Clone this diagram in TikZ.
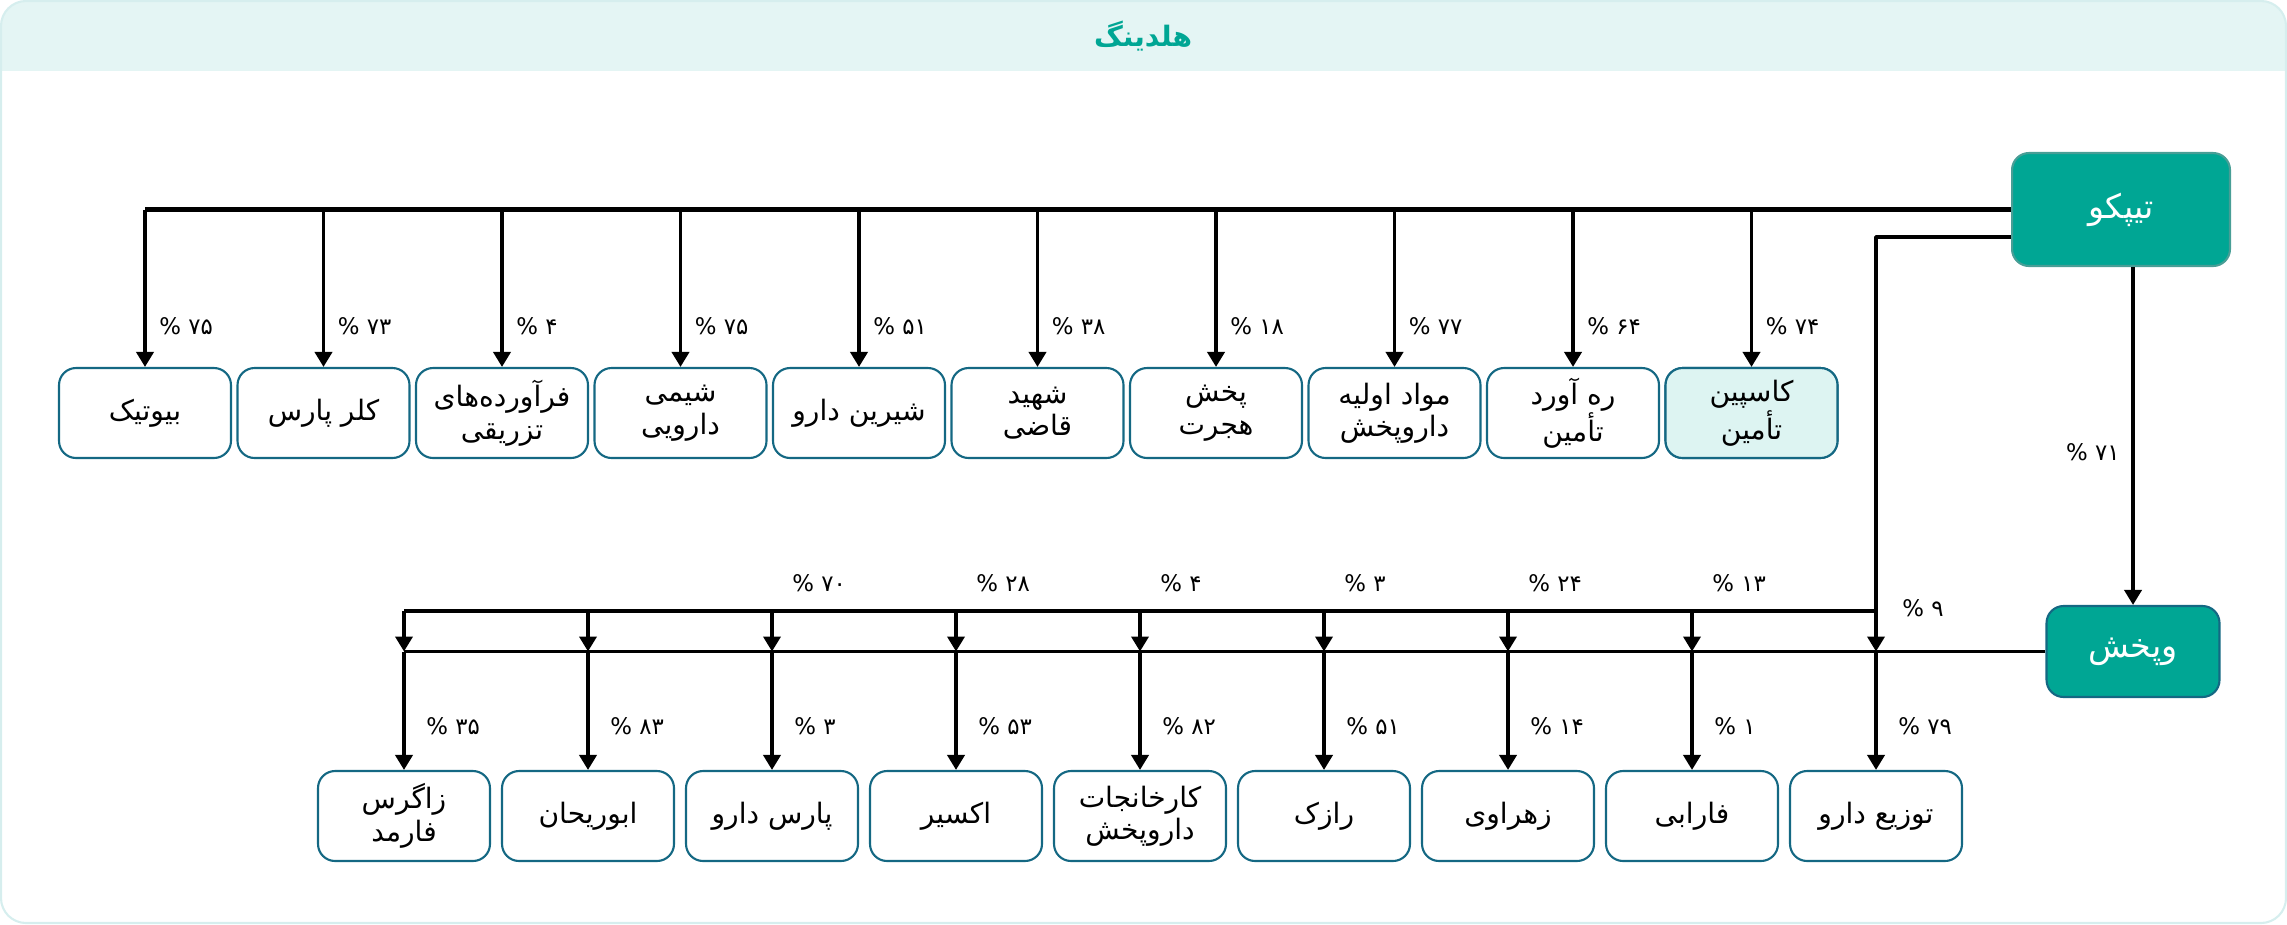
\documentclass[tikz,border=0pt]{standalone}
\usepackage{fontspec}
\newfontfamily\arabicfont[Script=Arabic]{DejaVu Sans}
\TeXXeTstate=1
\usetikzlibrary{arrows.meta}
\definecolor{brand}{RGB}{0,166,148}
\definecolor{brandedge}{RGB}{72,158,150}
\definecolor{edgeblue}{RGB}{20,104,131}
\definecolor{mist}{RGB}{228,245,244}
\definecolor{highlight}{RGB}{221,244,242}
\definecolor{rim}{RGB}{214,238,238}
\newcommand{\fa}[1]{\beginR#1\endR}
\begin{document}
\begin{tikzpicture}[x=0.02cm, y=-0.02cm, line join=round, >={Triangle[length=0.3cm,width=0.34cm]},
  box/.style={draw=edgeblue, line width=1.2pt, fill=white, rounded corners=0.34cm,
    minimum width=3.44cm, minimum height=1.8cm, inner sep=0pt, align=center,
    font=\arabicfont\fontsize{16}{18.5}\selectfont},
  hub/.style={box, fill=brand, text=white, font=\arabicfont\fontsize{19}{22}\selectfont},
  pct/.style={anchor=west, inner sep=0pt, font=\arabicfont\fontsize{13}{15}\selectfont},
  wire/.style={line width=2.1pt},
  bus/.style={line width=2.7pt}]
\useasboundingbox (0,0) rectangle (2287,924);
% frame and header band
\begin{scope}
\clip (0,0) rectangle (2287,70);
\fill[mist, rounded corners=0.5cm] (1,1) rectangle (2286,200);
\end{scope}
\draw[rim, line width=1.2pt, rounded corners=0.5cm] (1,1) rectangle (2286,923);
\node[text=brand, font=\arabicfont\bfseries\fontsize{16}{19}\selectfont] (title) at (1143,36) {\fa{هلدینگ}};
% holding companies
\node[hub, draw=brandedge, minimum width=4.36cm, minimum height=2.26cm] (tipco) at (2121,209.5) {\fa{تیپکو}};
\node[hub, minimum width=3.46cm, minimum height=1.82cm] (vapakhsh) at (2133,651.5) {\fa{وپخش}};
% upper row
\foreach \txt/\p [count=\i] in {\fa{بیوتیک}/۷۵, \fa{کلر پارس}/۷۳,
  {\fa{فرآورده‌های}\\\fa{تزریقی}}/۴, {\fa{شیمی}\\\fa{دارویی}}/۷۵, \fa{شیرین دارو}/۵۱,
  {\fa{شهید}\\\fa{قاضی}}/۳۸, {\fa{پخش}\\\fa{هجرت}}/۱۸, {\fa{مواد اولیه}\\\fa{داروپخش}}/۷۷,
  {\fa{ره آورد}\\\fa{تأمین}}/۶۴, {\fa{کاسپین}\\\fa{تأمین}}/۷۴}
{
  \node[box] (t\i) at ({145+178.5*(\i-1)},413) {\txt};
  \path (t\i.north) ++(14,-41) node[pct] {\fa{\p\ \%}};
}
\node[box, fill=highlight] at (t10) {\fa{کاسپین}\\\fa{تأمین}};
\draw[bus] (tipco.west) -- (t1 |- tipco.west);
\foreach \i in {1,...,10}
  \draw[wire,->] (t\i |- tipco.west) -- (t\i.north);
% lower row
\foreach \txt/\p [count=\i] in {{\fa{زاگرس}\\\fa{فارمد}}/۳۵, \fa{ابوریحان}/۸۳, \fa{پارس دارو}/۳,
  \fa{اکسیر}/۵۳, {\fa{کارخانجات}\\\fa{داروپخش}}/۸۲, \fa{رازک}/۵۱, \fa{زهراوی}/۱۴,
  \fa{فارابی}/۱, \fa{توزیع دارو}/۷۹}
{
  \node[box] (b\i) at ({404+184*(\i-1)},816) {\txt};
  \path (b\i.north) ++(22,-44) node[pct] {\fa{\p\ \%}};
}
\coordinate (busA) at (0,611);
\draw[wire] ([yshift=-0.55cm]tipco.west) -| (b9 |- busA) -- (b1 |- busA);
\draw[wire] (vapakhsh.west) -- (b1 |- vapakhsh.west);
\foreach \i in {1,...,9} {
  \draw[wire,->] (b\i |- busA) -- (b\i |- vapakhsh.west);
  \draw[wire,->] (b\i |- vapakhsh.west) -- (b\i.north);
}
\foreach \p [count=\i from 3] in {۷۰,۲۸,۴,۳,۲۴,۱۳}
  \path (b\i |- busA) ++(20,-28) node[pct] {\fa{\p\ \%}};
\path (b9 |- busA) ++(26,-3) node[pct] {\fa{۹\ \%}};
% tipco to vapakhsh
\draw[wire,->] (vapakhsh |- tipco.south) -- (vapakhsh.north);
\path (vapakhsh.north) ++(-13,-153) node[pct, anchor=east] {\fa{۷۱\ \%}};
\end{tikzpicture}
\end{document}
